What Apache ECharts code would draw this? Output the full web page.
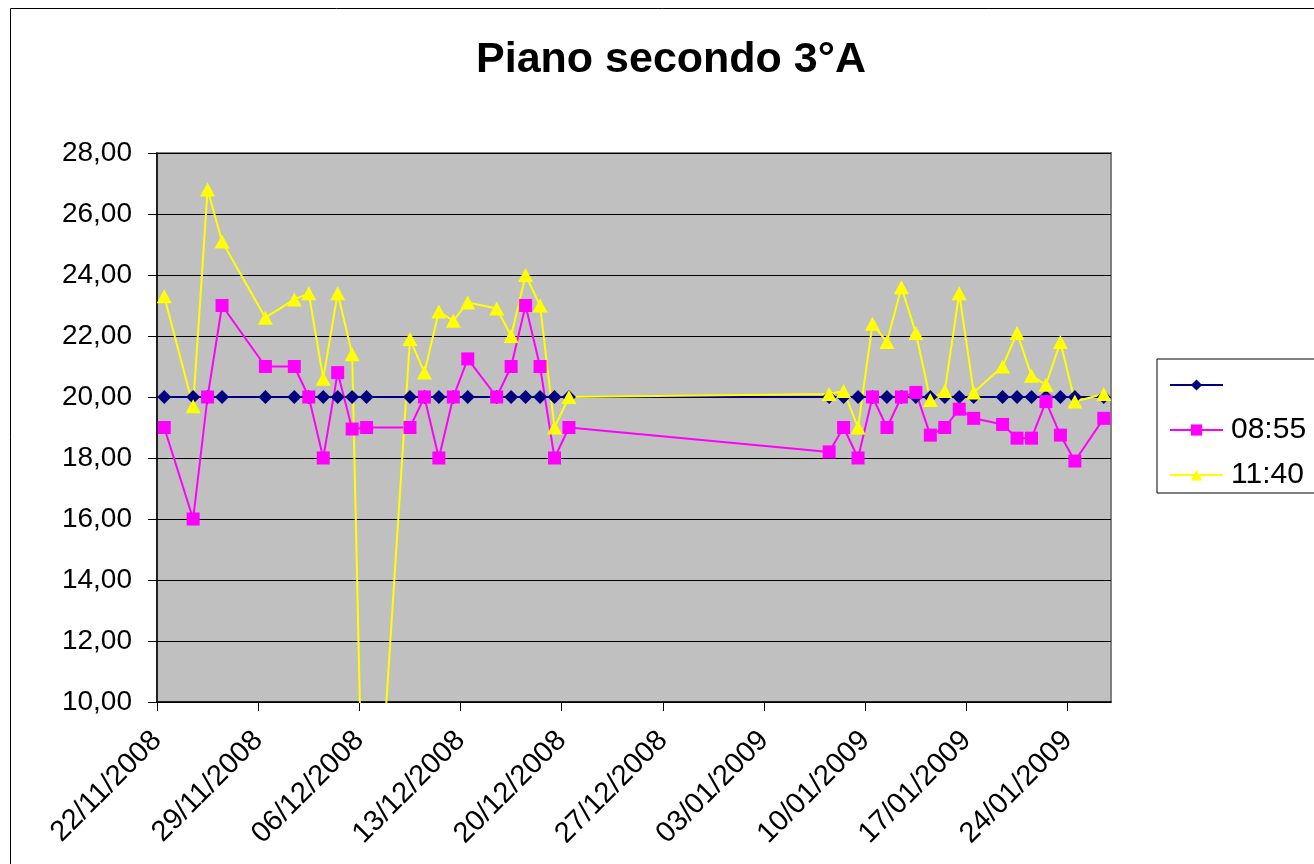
<!DOCTYPE html>
<html>
<head>
<meta charset="utf-8">
<script src="https://cdn.jsdelivr.net/npm/echarts@6/dist/echarts.min.js"></script>
<style>
html,body{margin:0;padding:0;background:#fff;}
#chart{width:1314px;height:864px;}
</style>
</head>
<body>
<div id="chart"></div>
<script>
const title = 'Piano secondo 3°A';
const startDate = '2008-11-22';
const endDate = '2009-01-27';
const tickDates = ['2008-11-22','2008-11-29','2008-12-06','2008-12-13','2008-12-20','2008-12-27','2009-01-03','2009-01-10','2009-01-17','2009-01-24'];
const dates = [
  '2008-11-22','2008-11-24','2008-11-25','2008-11-26','2008-11-29','2008-12-01','2008-12-02','2008-12-03','2008-12-04','2008-12-05','2008-12-06',
  '2008-12-09','2008-12-10','2008-12-11','2008-12-12','2008-12-13','2008-12-15','2008-12-16','2008-12-17','2008-12-18','2008-12-19','2008-12-20',
  '2009-01-07','2009-01-08','2009-01-09','2009-01-10','2009-01-11','2009-01-12','2009-01-13','2009-01-14','2009-01-15','2009-01-16','2009-01-17',
  '2009-01-19','2009-01-20','2009-01-21','2009-01-22','2009-01-23','2009-01-24','2009-01-26'
];
const seriesNames = [' ', '08:55', '11:40'];
const reference = [20,20,20,20,20,20,20,20,20,20,20, 20,20,20,20,20,20,20,20,20,20,20, 20,20,20,20,20,20,20,20,20,20,20, 20,20,20,20,20,20,20];
const v0855 = [19.0,16.0,20.0,23.0,21.0,21.0,20.0,18.0,20.8,18.95,19.0, 19.0,20.0,18.0,20.0,21.25,20.0,21.0,23.0,21.0,18.0,19.0,
  18.2,19.0,18.0,20.0,19.0,20.0,20.15,18.75,19.0,19.6,19.3, 19.1,18.65,18.65,19.85,18.75,17.9,19.3];
const v1140 = [23.3,19.7,26.8,25.1,22.6,23.2,23.4,20.6,23.4,21.4,0, 21.9,20.8,22.8,22.5,23.1,22.9,22.0,24.0,23.0,19.0,20.0,
  20.1,20.2,19.0,22.4,21.8,23.6,22.1,19.9,20.2,23.4,20.15, 21.0,22.1,20.7,20.4,21.8,19.85,20.1];
const yMin = 10, yMax = 28, yStep = 2;

const DAY = 86400000;
const t0 = Date.parse(startDate + 'T00:00:00Z');
const dayIndex = s => Math.round((Date.parse(s + 'T00:00:00Z') - t0) / DAY);
const fmtDate = d => {
  const dt = new Date(t0 + Math.round(d) * DAY);
  const dd = String(dt.getUTCDate()).padStart(2, '0');
  const mm = String(dt.getUTCMonth() + 1).padStart(2, '0');
  return dd + '/' + mm + '/' + dt.getUTCFullYear();
};
// Excel date axis places each day's point in the middle of its day slot
const pts = vals => dates.map((s, i) => [dayIndex(s) + 0.5, vals[i]]);

const chart = echarts.init(document.getElementById('chart'), null, {renderer: 'canvas'});
const font = 'Liberation Sans, Arial, sans-serif';
chart.setOption({
  animation: false,
  backgroundColor: '#ffffff',
  title: {
    text: title, left: 666, top: 34, textAlign: 'center',
    textStyle: {fontFamily: font, fontSize: 43, fontWeight: 'bold', color: '#000'}
  },
  graphic: [{
    type: 'rect', left: 8, top: 6, silent: true, z: -10,
    shape: {x: 0, y: 0, width: 1400, height: 900},
    style: {fill: 'none', stroke: '#000', lineWidth: 1}
  }],
  legend: {
    orient: 'vertical', left: 1157, top: 359,
    data: seriesNames, selectedMode: false,
    borderColor: '#000', borderWidth: 1, backgroundColor: '#fff',
    padding: [10, 60, 2, 12], itemGap: 13, itemWidth: 53, itemHeight: 14,
    textStyle: {fontFamily: font, fontSize: 30, color: '#000', lineHeight: 32, padding: [0, 0, 0, 3]}
  },
  grid: {
    left: 157, top: 153, width: 954, height: 549,
    show: true, backgroundColor: '#C0C0C0', borderColor: '#808080', borderWidth: 2
  },
  xAxis: {
    type: 'value', min: dayIndex(startDate), max: dayIndex(endDate),
    axisLine: {onZero: false, lineStyle: {color: '#000', width: 1.5}},
    axisTick: {show: true, length: 9, lineStyle: {color: '#000'}, customValues: tickDates.map(dayIndex)},
    axisLabel: {
      customValues: tickDates.map(dayIndex), rotate: 45, margin: 34,
      fontFamily: font, fontSize: 29, color: '#000', formatter: v => fmtDate(v)
    },
    splitLine: {show: false}
  },
  yAxis: {
    type: 'value', min: yMin, max: yMax, interval: yStep,
    axisLine: {show: true, lineStyle: {color: '#000', width: 1.5}},
    axisTick: {show: true, length: 9, lineStyle: {color: '#000'}},
    axisLabel: {margin: 25, fontFamily: font, fontSize: 28, color: '#000', formatter: v => v.toFixed(2).replace('.', ',')},
    splitLine: {show: true, lineStyle: {color: '#000', width: 1}}
  },
  series: [
    {name: seriesNames[0], type: 'line', data: pts(reference), symbol: 'diamond', symbolSize: [14, 14],
      itemStyle: {color: '#000080'}, lineStyle: {color: '#000080', width: 2}, clip: true},
    {name: seriesNames[1], type: 'line', data: pts(v0855), symbol: 'rect', symbolSize: 13,
      itemStyle: {color: '#FF00FF'}, lineStyle: {color: '#FF00FF', width: 2}, clip: true},
    {name: seriesNames[2], type: 'line', data: pts(v1140), symbol: 'triangle', symbolSize: [15, 14],
      itemStyle: {color: '#FFFF00'}, lineStyle: {color: '#FFFF00', width: 2}, clip: true}
  ]
});
</script>
</body>
</html>
